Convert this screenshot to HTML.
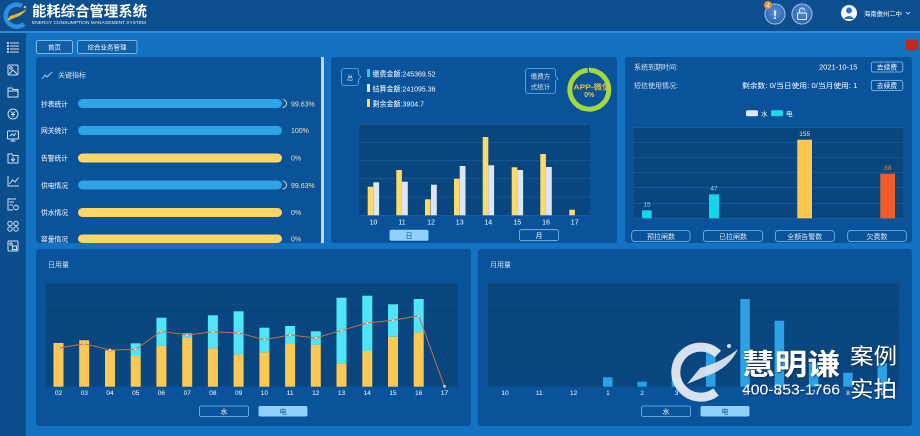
<!DOCTYPE html>
<html><head><meta charset="utf-8">
<style>
html,body{margin:0;padding:0;background:#1472c3;}
svg{display:block;}
</style></head>
<body>
<svg width="920" height="436" viewBox="0 0 920 436" xmlns="http://www.w3.org/2000/svg" font-family="'Liberation Sans','Noto Sans CJK SC',sans-serif">
<defs>
<filter id="sh" x="-20%" y="-20%" width="140%" height="140%"><feDropShadow dx="0.8" dy="0.8" stdDeviation="0.8" flood-color="#222" flood-opacity="0.8"/></filter>
<radialGradient id="cb" cx="50%" cy="40%" r="60%"><stop offset="0" stop-color="#5a90d8"/><stop offset="1" stop-color="#2a62b0"/></radialGradient>
</defs>
<!-- backgrounds -->
<rect x="0" y="0" width="920" height="436" fill="#1472c3"/>
<rect x="0" y="0" width="920" height="31" fill="#0c4e8e"/>
<rect x="0" y="31" width="920" height="2" fill="#3388d2"/>
<rect x="0" y="33" width="26" height="403" fill="#0b4e8e"/>

<!-- header logo -->
<path d="M22 6 A11 11 0 1 0 24 24" fill="none" stroke="#2b8fe2" stroke-width="4.5"/>
<path d="M27 9 Q18 14 10 16 L7 21 L14 18 Q22 16 27 9 Z" fill="#f5b61e"/>
<circle cx="25" cy="7" r="1.3" fill="#f5b61e"/>
<text x="32" y="16.5" font-size="14.5" font-weight="bold" fill="#ffffff" textLength="115" lengthAdjust="spacingAndGlyphs">能耗综合管理系统</text>
<text x="32" y="24" font-size="4.6" fill="#e8f0fa" textLength="114" lengthAdjust="spacingAndGlyphs">ENERGY CONSUMPTION MANAGEMENT SYSTEM</text>

<!-- header right -->
<circle cx="775" cy="14" r="10" fill="url(#cb)" stroke="#8fb4e0" stroke-width="1.2"/>
<text x="775" y="19" font-size="12" font-weight="bold" fill="#fff" text-anchor="middle">!</text>
<circle cx="768" cy="5" r="4" fill="#e8922a"/>
<text x="768" y="7.3" font-size="6" fill="#fff" text-anchor="middle">4</text>
<circle cx="802" cy="14" r="10" fill="url(#cb)" stroke="#8fb4e0" stroke-width="1.2"/>
<rect x="797.5" y="13" width="9" height="6.5" rx="1" fill="none" stroke="#e8f0fa" stroke-width="1"/>
<path d="M799.5 13 V10.5 A2.5 2.5 0 0 1 804.5 10.5" fill="none" stroke="#e8f0fa" stroke-width="1"/>
<circle cx="849" cy="13" r="8" fill="#ffffff"/>
<circle cx="849" cy="10.5" r="3" fill="#2a72c8"/>
<path d="M843.5 19 Q849 13 854.5 19 Z" fill="#2a72c8"/>
<text x="864" y="16" font-size="6.5" fill="#ffffff" textLength="38" lengthAdjust="spacingAndGlyphs">海南儋州二中</text>
<polyline points="906,12 908,14 910,12" fill="none" stroke="#dfe9f5" stroke-width="0.8"/>

<!-- sidebar icons -->
<g stroke="#cfe0f2" stroke-width="1" fill="none">
  <g><circle cx="8" cy="43" r="0.6" fill="#cfe0f2"/><circle cx="8" cy="46" r="0.6" fill="#cfe0f2"/><circle cx="8" cy="49" r="0.6" fill="#cfe0f2"/><circle cx="8" cy="52" r="0.6" fill="#cfe0f2"/>
  <line x1="10" y1="43" x2="19" y2="43"/><line x1="10" y1="46" x2="19" y2="46"/><line x1="10" y1="49" x2="19" y2="49"/><line x1="10" y1="52" x2="19" y2="52"/></g>
  <rect x="8" y="65" width="10" height="10" rx="1"/><circle cx="11" cy="68" r="1.2"/><path d="M9 74 L13 70 L17 74"/>
  <path d="M8 88 H12 L13 89.5 H18 V97 H8 Z"/><line x1="8" y1="91" x2="18" y2="91"/>
  <circle cx="13" cy="114" r="5"/><path d="M11 111.5 L13 114 L15 111.5 M13 114 V117 M11 114.5 H15"/>
  <rect x="7.5" y="131" width="11" height="8" rx="1"/><path d="M10 136 L12 134 L14 135.5 L16 133 M13 139 V141 M10.5 141 H15.5"/>
  <path d="M8 154 H12 L13 155.5 H18 V163 H8 Z"/><path d="M13 156.5 V161 M11 159 L13 161 L15 159"/>
  <path d="M8 176 V186 H19"/><path d="M9.5 184 L12.5 180 L15 182 L18.5 177.5"/>
  <path d="M16 199 H8 V210 H13"/><line x1="9.5" y1="202" x2="14" y2="202"/><line x1="9.5" y1="205" x2="13" y2="205"/><circle cx="16" cy="207.5" r="2.3"/>
  <circle cx="10" cy="223.5" r="2.2"/><circle cx="16" cy="223.5" r="2.2"/><circle cx="10" cy="229" r="2.2"/><circle cx="16" cy="229" r="2.2"/>
  <rect x="8" y="241" width="10" height="10" rx="1"/><circle cx="11" cy="244" r="1.2"/><rect x="12.5" y="246" width="4" height="3.5"/>
</g>

<!-- top buttons -->
<rect x="36.5" y="40.5" width="36" height="13" rx="2" fill="#0f5fa9" stroke="#9fcdf2" stroke-width="0.8"/>
<text x="54.5" y="49.5" font-size="6.5" fill="#ffffff" text-anchor="middle">首页</text>
<rect x="77.5" y="40.5" width="59.5" height="13" rx="2" fill="#0f5fa9" stroke="#9fcdf2" stroke-width="0.8"/>
<text x="107" y="49.5" font-size="6.5" fill="#ffffff" text-anchor="middle">综合业务管理</text>
<rect x="906" y="40" width="12" height="10" fill="#c0281c"/>

<!-- ============ Panel 1 ============ -->
<rect x="36" y="57" width="285" height="186" rx="3" fill="#0a5299"/>
<rect x="321" y="57" width="3" height="186" fill="#c9d5e2"/>
<polyline points="42,79 45,75 47,77 52,72" fill="none" stroke="#9fcdf2" stroke-width="1"/>
<text x="58" y="77.5" font-size="7" fill="#cfe3f5">关键指标</text>
<g font-size="7" fill="#ffffff">
<text x="41" y="106.5" textLength="27" lengthAdjust="spacingAndGlyphs">抄表统计</text>
<text x="41" y="133" textLength="27" lengthAdjust="spacingAndGlyphs">网关统计</text>
<text x="41" y="160.5" textLength="27" lengthAdjust="spacingAndGlyphs">告警统计</text>
<text x="41" y="188" textLength="27" lengthAdjust="spacingAndGlyphs">供电情况</text>
<text x="41" y="215" textLength="27" lengthAdjust="spacingAndGlyphs">供水情况</text>
<text x="41" y="241.5" textLength="27" lengthAdjust="spacingAndGlyphs">容量情况</text>
</g>
<rect x="78" y="99" width="204" height="9" rx="4.5" fill="#2fa3e4"/>
<path d="M282.5 99.5 A4 4 0 0 1 282.5 107.5" fill="none" stroke="#f0f0d0" stroke-width="0.8"/>
<rect x="78" y="126" width="204" height="9" rx="4.5" fill="#2fa3e4"/>
<rect x="78" y="153.5" width="204" height="9" rx="4.5" fill="#fcd666"/>
<rect x="78" y="180.5" width="204" height="9" rx="4.5" fill="#2fa3e4"/>
<path d="M282.5 181 A4 4 0 0 1 282.5 189" fill="none" stroke="#f0f0d0" stroke-width="0.8"/>
<rect x="78" y="208" width="204" height="9" rx="4.5" fill="#fcd666"/>
<rect x="78" y="234.5" width="204" height="8.5" rx="4.5" fill="#fcd666"/>
<g font-size="7" fill="#f2e4ae">
<text x="291" y="106.5">99.63%</text>
<text x="291" y="133">100%</text>
<text x="291" y="160.5">0%</text>
<text x="291" y="188">99.63%</text>
<text x="291" y="215">0%</text>
<text x="291" y="241.5">0%</text>
</g>

<!-- ============ Panel 2 ============ -->
<rect x="331" y="57" width="286" height="186" rx="3" fill="#0a5299"/>
<path d="M344 68.5 H356 A2.5 2.5 0 0 1 358.5 71 V74.5 L361 77 L358.5 79.5 V83 A2.5 2.5 0 0 1 356 85.5 H344 A2.5 2.5 0 0 1 341.5 83 V71 A2.5 2.5 0 0 1 344 68.5 Z" fill="none" stroke="#6aaee4" stroke-width="0.8"/>
<text x="350" y="80" font-size="6.5" fill="#cfe3f5" text-anchor="middle">总</text>
<rect x="367" y="69" width="3" height="8" fill="#19d3f0"/>
<rect x="367" y="84" width="3" height="8" fill="#e2eaf7"/>
<rect x="367" y="99" width="3" height="8" fill="#fcd666"/>
<g font-size="7.5" fill="#ffffff">
<text x="372.5" y="76.5" textLength="63" lengthAdjust="spacingAndGlyphs">缴费金额:245369.52</text>
<text x="372.5" y="91.5" textLength="63" lengthAdjust="spacingAndGlyphs">结算金额:241095.36</text>
<text x="372.5" y="106.5" textLength="51.5" lengthAdjust="spacingAndGlyphs">剩余金额:3904.7</text>
</g>
<path d="M528 68.5 H553 A2.5 2.5 0 0 1 555.5 71 V76 L558 78.5 L555.5 81 V91 A2.5 2.5 0 0 1 553 93.5 H528 A2.5 2.5 0 0 1 525.5 91 V71 A2.5 2.5 0 0 1 528 68.5 Z" fill="none" stroke="#6aaee4" stroke-width="0.8"/>
<text x="540.5" y="78.5" font-size="6.5" fill="#cfe3f5" text-anchor="middle">缴费方</text>
<text x="540.5" y="89" font-size="6.5" fill="#cfe3f5" text-anchor="middle">式统计</text>
<circle cx="589.3" cy="89.7" r="19.5" fill="none" stroke="#a3d93a" stroke-width="5" stroke-dasharray="120 2.5" transform="rotate(-88 589.3 89.7)"/>
<line x1="589.3" y1="67.5" x2="589.3" y2="71.5" stroke="#ffffff" stroke-width="0.8"/>
<text x="592" y="89.5" font-size="7.5" font-weight="bold" fill="#e9c23c" text-anchor="middle" textLength="37" lengthAdjust="spacingAndGlyphs">APP-微信</text>
<text x="589.3" y="97" font-size="7" font-weight="bold" fill="#e9c23c" text-anchor="middle">0%</text>
<rect x="359" y="124" width="231" height="91.5" fill="#09467f"/>
<g stroke="#1c66a6" stroke-width="0.6">
<line x1="359" y1="124.3" x2="590" y2="124.3"/><line x1="359" y1="142.5" x2="590" y2="142.5"/><line x1="359" y1="160.5" x2="590" y2="160.5"/><line x1="359" y1="178.5" x2="590" y2="178.5"/><line x1="359" y1="197" x2="590" y2="197"/><line x1="359" y1="215.3" x2="590" y2="215.3"/>
</g>
<g fill="#fddb6a">
<rect x="367.7" y="186.7" width="5.5" height="28.6"/>
<rect x="396.3" y="170" width="5.6" height="45.3"/>
<rect x="425" y="199.3" width="5.6" height="16"/>
<rect x="454" y="178.7" width="5.6" height="36.6"/>
<rect x="482.7" y="137" width="5.6" height="78.3"/>
<rect x="511.7" y="167.3" width="5.6" height="48"/>
<rect x="540.3" y="154" width="5.6" height="61.3"/>
<rect x="569.3" y="209.7" width="5.6" height="5.6"/>
</g>
<g fill="#dde6f6">
<rect x="373.3" y="182.3" width="5.8" height="33"/>
<rect x="402" y="181.7" width="5.8" height="33.6"/>
<rect x="431" y="184.7" width="5.8" height="30.6"/>
<rect x="459.7" y="166" width="5.8" height="49.3"/>
<rect x="488.3" y="165.3" width="5.8" height="50"/>
<rect x="517.3" y="170" width="5.8" height="45.3"/>
<rect x="546" y="167" width="5.8" height="48.3"/>
</g>
<g font-size="7" fill="#ffffff" text-anchor="middle">
<text x="373.5" y="224.5">10</text><text x="402" y="224.5">11</text><text x="431" y="224.5">12</text><text x="459.7" y="224.5">13</text><text x="488.3" y="224.5">14</text><text x="517.3" y="224.5">15</text><text x="546" y="224.5">16</text><text x="574.7" y="224.5">17</text>
</g>
<rect x="389.5" y="229.7" width="39" height="11" rx="2" fill="#8fd1fb"/>
<text x="409" y="238" font-size="7" fill="#1a4a80" text-anchor="middle">日</text>
<rect x="519.5" y="229.7" width="39" height="11" rx="2" fill="none" stroke="#7cc0f0" stroke-width="0.8"/>
<text x="539" y="238" font-size="7" fill="#ffffff" text-anchor="middle">月</text>

<!-- ============ Panel 3 ============ -->
<rect x="625" y="57" width="287" height="186" rx="3" fill="#0a5299"/>
<g font-size="7" fill="#cfe3f5">
<text x="634" y="69.5" textLength="44" lengthAdjust="spacingAndGlyphs">系统到期时间:</text>
<text x="857.5" y="69.5" text-anchor="end" fill="#ffffff" textLength="38.5" lengthAdjust="spacingAndGlyphs">2021-10-15</text>
<text x="634" y="88" textLength="44" lengthAdjust="spacingAndGlyphs">短信使用情况:</text>
<text x="857.5" y="88" text-anchor="end" fill="#ffffff" textLength="115.5" lengthAdjust="spacingAndGlyphs">剩余数: 0/当日使用: 0/当月使用: 1</text>
</g>
<rect x="871.3" y="62" width="31.5" height="10" rx="2" fill="none" stroke="#8cc8f0" stroke-width="0.8"/>
<text x="887" y="69.7" font-size="6.8" fill="#ffffff" text-anchor="middle">去续费</text>
<rect x="871.3" y="80.5" width="31.5" height="10" rx="2" fill="none" stroke="#8cc8f0" stroke-width="0.8"/>
<text x="887" y="88.2" font-size="6.8" fill="#ffffff" text-anchor="middle">去续费</text>
<rect x="746" y="110.3" width="12" height="6" rx="1.5" fill="#dfe8fb"/>
<text x="761" y="116" font-size="6.5" fill="#ffffff">水</text>
<rect x="771" y="110.3" width="12" height="6" rx="1.5" fill="#19d8ea"/>
<text x="786" y="116" font-size="6.5" fill="#ffffff">电</text>
<rect x="634" y="127.5" width="269" height="91" fill="#09467f"/>
<g stroke="#1c66a6" stroke-width="0.6">
<line x1="634" y1="127.7" x2="903" y2="127.7"/><line x1="634" y1="142.5" x2="903" y2="142.5"/><line x1="634" y1="157.5" x2="903" y2="157.5"/><line x1="634" y1="172.5" x2="903" y2="172.5"/><line x1="634" y1="187.7" x2="903" y2="187.7"/><line x1="634" y1="203.3" x2="903" y2="203.3"/><line x1="634" y1="218.3" x2="903" y2="218.3"/>
</g>
<rect x="642" y="210.3" width="9.7" height="8" fill="#12d6ea"/>
<rect x="709" y="194.3" width="10" height="24" fill="#12d6ea"/>
<rect x="797.3" y="139.7" width="14.7" height="78.6" fill="#fcc850"/>
<rect x="880.3" y="173.7" width="14.7" height="44.6" fill="#f25c2a"/>
<g font-size="6.5" text-anchor="middle">
<text x="647" y="206.5" fill="#9fd8f0">15</text>
<text x="714" y="190.5" fill="#9fd8f0">47</text>
<text x="804.7" y="136" fill="#f0e6c0">155</text>
<text x="887.7" y="170" fill="#f07a48">88</text>
</g>
<g fill="none" stroke="#7cc0f0" stroke-width="0.8">
<rect x="631.7" y="230.5" width="58.3" height="11" rx="3"/>
<rect x="703.3" y="230.5" width="59.4" height="11" rx="3"/>
<rect x="775.3" y="230.5" width="59" height="11" rx="3"/>
<rect x="847.7" y="230.5" width="58.6" height="11" rx="3"/>
</g>
<g font-size="7" fill="#dfeaf7" text-anchor="middle">
<text x="661" y="239">预拉闸数</text>
<text x="733" y="239">已拉闸数</text>
<text x="804.8" y="239">全额告警数</text>
<text x="877" y="239">欠费数</text>
</g>

<!-- ============ Panel 4 (日用量) ============ -->
<rect x="36" y="249" width="435" height="177" rx="3" fill="#0a5299"/>
<text x="48" y="267" font-size="7" fill="#cfe3f5">日用量</text>
<rect x="45.7" y="283.3" width="412" height="103.4" fill="#09467f"/>
<g stroke="#0d4f8e" stroke-width="0.6">
<line x1="45.7" y1="304.3" x2="457.7" y2="304.3"/><line x1="45.7" y1="325" x2="457.7" y2="325"/><line x1="45.7" y1="345.5" x2="457.7" y2="345.5"/><line x1="45.7" y1="366" x2="457.7" y2="366"/>
</g>
<g fill="#4fe6f8">
<rect x="130.7" y="343.3" width="10" height="13"/>
<rect x="156.4" y="317.7" width="10" height="28"/>
<rect x="182.2" y="333.3" width="10" height="4.5"/>
<rect x="207.9" y="315.3" width="10" height="33"/>
<rect x="233.6" y="311.3" width="10" height="43"/>
<rect x="259.4" y="327.7" width="10" height="24.6"/>
<rect x="285.1" y="326" width="10" height="18"/>
<rect x="310.8" y="331.3" width="10" height="13.4"/>
<rect x="336.5" y="297.7" width="10" height="65.6"/>
<rect x="362.3" y="295.7" width="10" height="55.3"/>
<rect x="388" y="304.3" width="10" height="32.4"/>
<rect x="413.7" y="299" width="10" height="33.3"/>
</g>
<g fill="#fcc957">
<rect x="53.5" y="343" width="10" height="43.7"/>
<rect x="79.2" y="340.3" width="10" height="46.4"/>
<rect x="105" y="350.3" width="10" height="36.4"/>
<rect x="130.7" y="356" width="10" height="30.7"/>
<rect x="156.4" y="345.7" width="10" height="41"/>
<rect x="182.2" y="337.7" width="10" height="49"/>
<rect x="207.9" y="348.3" width="10" height="38.4"/>
<rect x="233.6" y="354.3" width="10" height="32.4"/>
<rect x="259.4" y="352.3" width="10" height="34.4"/>
<rect x="285.1" y="344" width="10" height="42.7"/>
<rect x="310.8" y="344.7" width="10" height="42"/>
<rect x="336.5" y="363.3" width="10" height="23.4"/>
<rect x="362.3" y="351" width="10" height="35.7"/>
<rect x="388" y="336.7" width="10" height="50"/>
<rect x="413.7" y="332.3" width="10" height="54.4"/>
</g>
<polyline points="58.5,348 84.2,343.7 110,350 135.7,349.3 161.4,331.3 187.2,335 212.9,331.7 238.6,333 264.4,339.7 290.1,335 315.8,338 341.5,330.3 367.3,323 393,320.3 418.7,315.7 444.5,386.7" fill="none" stroke="#c4704c" stroke-width="1"/>
<g fill="#f3e2d6" stroke="#c4704c" stroke-width="0.5">
<circle cx="58.5" cy="348" r="1.4"/><circle cx="84.2" cy="343.7" r="1.4"/><circle cx="110" cy="350" r="1.4"/><circle cx="135.7" cy="349.3" r="1.4"/><circle cx="161.4" cy="331.3" r="1.4"/><circle cx="187.2" cy="335" r="1.4"/><circle cx="212.9" cy="331.7" r="1.4"/><circle cx="238.6" cy="333" r="1.4"/><circle cx="264.4" cy="339.7" r="1.4"/><circle cx="290.1" cy="335" r="1.4"/><circle cx="315.8" cy="338" r="1.4"/><circle cx="341.5" cy="330.3" r="1.4"/><circle cx="367.3" cy="323" r="1.4"/><circle cx="393" cy="320.3" r="1.4"/><circle cx="418.7" cy="315.7" r="1.4"/><circle cx="444.5" cy="386.3" r="1.4"/>
</g>
<g font-size="6.5" fill="#ffffff" text-anchor="middle">
<text x="58.5" y="395">02</text><text x="84.2" y="395">03</text><text x="110" y="395">04</text><text x="135.7" y="395">05</text><text x="161.4" y="395">06</text><text x="187.2" y="395">07</text><text x="212.9" y="395">08</text><text x="238.6" y="395">09</text><text x="264.4" y="395">10</text><text x="290.1" y="395">11</text><text x="315.8" y="395">12</text><text x="341.5" y="395">13</text><text x="367.3" y="395">14</text><text x="393" y="395">15</text><text x="418.7" y="395">16</text><text x="444.5" y="395">17</text>
</g>
<rect x="199.5" y="406" width="49" height="10.5" rx="2" fill="none" stroke="#7cc0f0" stroke-width="0.8"/>
<text x="224" y="414" font-size="7" fill="#ffffff" text-anchor="middle">水</text>
<rect x="258.5" y="406" width="49" height="10.5" rx="2" fill="#8fd1fb"/>
<text x="283" y="414" font-size="7" fill="#1a4a80" text-anchor="middle">电</text>

<!-- ============ Panel 5 (月用量) ============ -->
<rect x="478" y="249" width="434" height="177" rx="3" fill="#0a5299"/>
<text x="490" y="267" font-size="7" fill="#cfe3f5">月用量</text>
<rect x="487.7" y="283.3" width="411.6" height="103.4" fill="#09467f"/>
<g stroke="#0d4f8e" stroke-width="0.6">
<line x1="487.7" y1="304.3" x2="899.3" y2="304.3"/><line x1="487.7" y1="325" x2="899.3" y2="325"/><line x1="487.7" y1="345.5" x2="899.3" y2="345.5"/><line x1="487.7" y1="366" x2="899.3" y2="366"/>
</g>
<g fill="#2ba2e6">
<rect x="603" y="377.3" width="9.5" height="9.4"/>
<rect x="637.4" y="381.7" width="9.5" height="5"/>
<rect x="671.7" y="378" width="9.5" height="8.7"/>
<rect x="706" y="346.7" width="9.5" height="40"/>
<rect x="740.3" y="299" width="9.5" height="87.7"/>
<rect x="774.6" y="320.7" width="9.5" height="66"/>
<rect x="808.9" y="362.7" width="9.5" height="24"/>
<rect x="843.2" y="372.7" width="9.5" height="14"/>
<rect x="877.5" y="363" width="9.5" height="23.7"/>
</g>
<g font-size="6.5" fill="#ffffff" text-anchor="middle">
<text x="505" y="395">10</text><text x="539.3" y="395">11</text><text x="573.6" y="395">12</text><text x="607.9" y="395">1</text><text x="642.2" y="395">2</text><text x="676.5" y="395">3</text><text x="710.8" y="395">4</text><text x="745.1" y="395">5</text><text x="779.4" y="395">6</text><text x="813.7" y="395">7</text><text x="848" y="395">8</text><text x="882.3" y="395">9</text>
</g>
<rect x="641.5" y="406" width="49" height="10.5" rx="2" fill="none" stroke="#7cc0f0" stroke-width="0.8"/>
<text x="666" y="414" font-size="7" fill="#ffffff" text-anchor="middle">水</text>
<rect x="700.5" y="406" width="49" height="10.5" rx="2" fill="#8fd1fb"/>
<text x="725" y="414" font-size="7" fill="#1a4a80" text-anchor="middle">电</text>

<!-- watermark -->
<g opacity="0.95">
<path d="M718 354 A25 25 0 1 0 716 392" fill="none" stroke="#e4eaf1" stroke-width="9"/>
<path d="M738 349 Q722 362 700 368 L687 384 L709 375 Q729 368 738 349 Z" fill="#dce4ee"/>
<circle cx="729" cy="346" r="2" fill="#dce4ee"/>
</g>
<g filter="url(#sh)" fill="#ffffff">
<text x="742" y="374.5" font-size="29" font-weight="bold" textLength="98" lengthAdjust="spacingAndGlyphs">慧明谦</text>
<text x="742" y="394.5" font-size="15" textLength="98" lengthAdjust="spacingAndGlyphs">400-853-1766</text>
<text x="850" y="364" font-size="22" textLength="47" lengthAdjust="spacingAndGlyphs">案例</text>
<text x="850" y="397" font-size="22" textLength="47" lengthAdjust="spacingAndGlyphs">实拍</text>
</g>
</svg>
</body></html>
